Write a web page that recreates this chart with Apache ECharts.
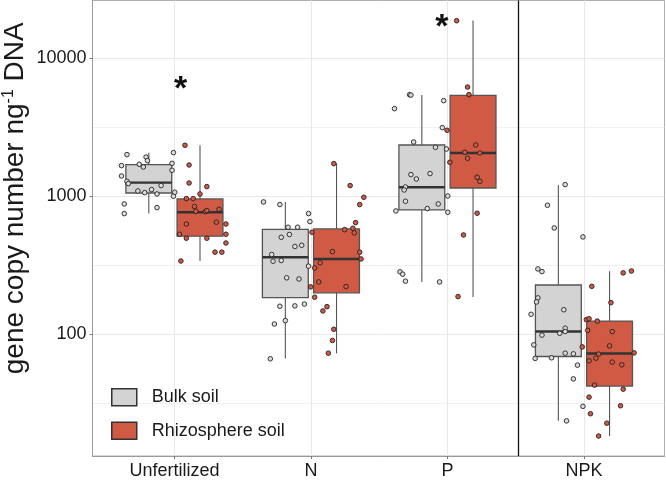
<!DOCTYPE html>
<html><head><meta charset="utf-8">
<script src="https://cdn.jsdelivr.net/npm/echarts@6/dist/echarts.min.js"></script>
<style>html,body{margin:0;padding:0;background:#fff}#c{width:666px;height:480px}</style>
</head><body><div id="c"></div>
<script>
// ---------------- data ----------------
const categories = ['Unfertilized', 'N', 'P', 'NPK'];
const seriesNames = ['Bulk soil', 'Rhizosphere soil'];
const yTicks = [100, 1000, 10000];
const yMinorTicks = [31.62, 316.2, 3162];

// box statistics per category: [lower whisker, Q1, median, Q3, upper whisker]
const bulkStats = [
  [750, 1056, 1256, 1694, 2069],
  [67, 185, 362, 577, 910],
  [240, 796, 1162, 2349, 5401],
  [23.7, 69.3, 105, 228, 1207]
];
const rhizoStats = [
  [340, 514, 766, 956, 2339],
  [73, 200, 352, 580, 1733],
  [187, 1148, 2057, 5374, 18730],
  [18.4, 42.3, 72.9, 125, 287]
];

// individual samples
const bulkValues = [
  [2002, 1667, 1923, 1811, 2070, 1704, 1629, 1732, 1542, 1402, 1283, 1236, 1195, 1092, 1063, 1118, 1039, 1069, 1000, 880, 749, 828],
  [910, 871, 750, 656, 597, 597, 505, 529, 433, 442, 379, 339, 343, 312, 257, 252, 160, 161, 166, 119, 126, 66.7],
  [4306, 5435, 5401, 4920, 3138, 2470, 2262, 2198, 1435, 1334, 1459, 1167, 1111, 920, 1005, 880, 815, 783, 766, 284, 273, 243, 240],
  [1215, 861, 590, 508, 298, 285, 184, 172, 140, 151, 111, 105, 102, 98.9, 84.1, 67.1, 67.8, 73.2, 72.4, 60.0, 47.7, 30.2, 23.7]
];
const rhizoValues = [
  [2338, 1684, 1248, 1175, 1039, 962, 962, 843, 779, 775, 788, 805, 630, 649, 630, 531, 497, 497, 531, 459, 394, 394, 340],
  [1723, 1195, 983, 871, 645, 587, 574, 543, 549, 398, 394, 352, 330, 303, 221, 240, 222, 186, 159, 148, 109, 90.5, 73.2],
  [18640, 6170, 5435, 3001, 2349, 2080, 2057, 1882, 1762, 1372, 1283, 754, 525, 188],
  [223, 279, 288, 170, 128, 130, 125, 107, 105, 81.3, 82.7, 72.1, 67.4, 64.4, 63.1, 60.3, 73.6, 43.0, 40.2, 35.2, 30.5, 26.7, 22.8, 18.4]
];
// horizontal jitter of each sample (category units, relative to its box centre)
const bulkJitter = [
  [-0.16, -0.20, -0.02, -0.01, 0.18, -0.07, -0.04, 0.17, 0.17, -0.20, -0.16, -0.15, 0.09, -0.08, -0.03, 0.02, 0.06, 0.19, 0.18, -0.18, -0.18, 0.06],
  [-0.16, -0.04, 0.17, 0.18, 0.02, 0.09, -0.03, 0.03, 0.07, 0.12, -0.10, -0.09, -0.03, 0.17, 0.01, 0.10, -0.04, 0.07, 0.14, -0.08, 0.00, -0.11],
  [-0.20, -0.09, -0.08, 0.16, 0.15, -0.06, 0.10, 0.18, -0.08, -0.04, 0.06, -0.12, -0.13, -0.12, 0.19, 0.12, 0.04, -0.19, 0.19, -0.16, -0.14, -0.12, 0.13],
  [0.05, -0.08, -0.03, 0.18, -0.15, -0.12, -0.15, -0.16, -0.20, 0.04, 0.05, 0.05, 0.01, -0.12, -0.18, -0.17, -0.05, 0.05, 0.11, 0.14, 0.11, 0.18, 0.06]
];
const rhizoJitter = [
  [-0.11, -0.08, -0.08, 0.05, 0.00, -0.10, -0.05, -0.04, -0.03, 0.04, 0.05, 0.14, -0.10, 0.12, 0.19, -0.15, -0.10, 0.05, 0.19, 0.19, 0.11, 0.16, -0.14],
  [-0.02, 0.10, 0.20, 0.17, 0.14, 0.12, 0.06, 0.13, -0.18, -0.03, 0.17, 0.18, -0.12, -0.16, -0.19, -0.13, 0.07, -0.16, -0.07, -0.10, -0.02, -0.03, -0.06],
  [-0.12, -0.04, -0.03, -0.19, 0.02, -0.06, 0.05, -0.04, -0.17, 0.03, 0.05, 0.03, -0.07, -0.11],
  [-0.13, 0.10, 0.16, 0.01, -0.17, -0.15, -0.09, -0.16, 0.02, -0.20, 0.00, -0.08, -0.10, -0.15, 0.02, 0.09, 0.18, -0.11, 0.10, -0.15, 0.08, -0.14, -0.02, -0.08]
];
// significance marks
const signifCategories = ['Unfertilized', 'P'];
const signifLabels = ['*', '*'];
const signifY = [6560, 18400];

// ---------------- layout / style ----------------
const DODGE = 0.1875, BOX_HALF = 0.168;
const SIG_DX = [0.045, -0.04];
const SIG_NUDGE = 6;
const DIVIDER_X = 3.515;
const FILL = ['#d3d3d3', '#d05a44'];
const EDGE = '#555';
const FONT = 'Liberation Sans, Arial, sans-serif';

function boxData(stats, side) {
  return stats.map((s, i) => [i + 1 + side * DODGE].concat(s));
}
function pointData(vals, jit, side) {
  const out = [];
  vals.forEach((arr, i) => arr.forEach((v, j) => out.push([i + 1 + side * DODGE + jit[i][j], v])));
  return out;
}
function renderBox(fill) {
  return function (params, api) {
    const x = api.value(0);
    const p = k => api.coord([x, api.value(k)]);
    const cx = p(1)[0];
    const yLo = p(1)[1], yQ1 = p(2)[1], yMed = p(3)[1], yQ3 = p(4)[1], yHi = p(5)[1];
    const L = api.coord([x - BOX_HALF, api.value(3)])[0];
    const R = api.coord([x + BOX_HALF, api.value(3)])[0];
    return {
      type: 'group', children: [
        { type: 'line', shape: { x1: cx, y1: yHi, x2: cx, y2: yQ3 }, style: { stroke: EDGE, lineWidth: 1.1 } },
        { type: 'line', shape: { x1: cx, y1: yQ1, x2: cx, y2: yLo }, style: { stroke: EDGE, lineWidth: 1.1 } },
        { type: 'rect', shape: { x: L, y: yQ3, width: R - L, height: yQ1 - yQ3 }, style: { fill: fill, stroke: EDGE, lineWidth: 1.3 } },
        { type: 'line', shape: { x1: L, y1: yMed, x2: R, y2: yMed }, style: { stroke: '#333', lineWidth: 2.4 } }
      ]
    };
  };
}
function renderSignif(params, api) {
  const pt = api.coord([api.value(0), api.value(1)]);
  return {
    type: 'text', x: pt[0], y: pt[1] + SIG_NUDGE,
    style: { text: signifLabels[params.dataIndex], fontSize: 34, fontWeight: 'bold', fontFamily: FONT, fill: '#111', align: 'center', verticalAlign: 'middle' }
  };
}

const chart = echarts.init(document.getElementById('c'), null, { renderer: 'canvas' });

const series = [];
[bulkStats, rhizoStats].forEach((stats, k) => {
  series.push({
    name: seriesNames[k], type: 'custom', renderItem: renderBox(FILL[k]),
    data: boxData(stats, k === 0 ? -1 : 1),
    encode: { x: 0, y: [1, 2, 3, 4, 5] },
    itemStyle: { color: FILL[k] }, z: 2, silent: true
  });
});
[[bulkValues, bulkJitter], [rhizoValues, rhizoJitter]].forEach((pair, k) => {
  series.push({
    name: seriesNames[k], type: 'scatter', symbol: 'circle', symbolSize: 4.6,
    data: pointData(pair[0], pair[1], k === 0 ? -1 : 1),
    itemStyle: { color: k === 0 ? '#dcdcdc' : '#d05a44', borderColor: '#222', borderWidth: 0.9, opacity: 1 },
    z: 5, silent: true
  });
});
series.push({
  name: 'signif', type: 'custom', renderItem: renderSignif,
  data: signifCategories.map((c, i) => [categories.indexOf(c) + 1 + SIG_DX[i], signifY[i]]),
  encode: { x: 0, y: 1 },
  z: 6, silent: true,
  markLine: {
    silent: true, symbol: 'none', label: { show: false },
    lineStyle: { color: '#111', width: 1.3, type: 'solid' },
    data: [{ xAxis: DIVIDER_X }]
  }
});

chart.setOption({
  animation: false,
  backgroundColor: '#fff',
  grid: { left: 92.5, right: 1.5, top: 0.5, bottom: 24, show: true, borderColor: '#b0b0b0', borderWidth: 1, outerBoundsMode: 'none', containLabel: false },
  legend: {
    orient: 'vertical', left: 106, top: 383, itemWidth: 25, itemHeight: 17, itemGap: 15, icon: 'rect', selectedMode: false,
    data: [
      { name: seriesNames[0], itemStyle: { color: FILL[0], borderColor: '#333', borderWidth: 1.5 } },
      { name: seriesNames[1], itemStyle: { color: FILL[1], borderColor: '#333', borderWidth: 1.5 } }
    ],
    textStyle: { fontSize: 18, color: '#1a1a1a', fontFamily: FONT, padding: [0, 0, 0, 10] }
  },
  xAxis: {
    type: 'value', min: 0.4, max: 4.59,
    axisLine: { show: true, onZero: false, lineStyle: { color: '#999', width: 1 } },
    axisTick: { show: true, length: 3, customValues: [1, 2, 3, 4], lineStyle: { color: '#777' } },
    axisLabel: { customValues: [1, 2, 3, 4], formatter: v => categories[Math.round(v) - 1], fontSize: 18, color: '#1a1a1a', fontFamily: FONT, margin: 6 },
    splitLine: { show: true, lineStyle: { color: '#e8e8e8', width: 1 } }
  },
  yAxis: [
    {
      type: 'log', logBase: 10, min: 13.2, max: 26100,
      name: 'gene copy number ng{sup|-1} DNA', nameLocation: 'middle', nameRotate: 90, nameGap: 62, nameMoveOverlap: false,
      nameTextStyle: { fontSize: 28, color: '#1a1a1a', fontFamily: FONT, padding: [0, 0, 0, 60],
        rich: { sup: { fontSize: 16, verticalAlign: 'top', padding: [0, 0, 14, 0], fontFamily: FONT, color: '#1a1a1a' } } },
      axisLine: { show: true, lineStyle: { color: '#999', width: 1 } },
      axisTick: { show: true, length: 3, customValues: yTicks, lineStyle: { color: '#777' } },
      axisLabel: { customValues: yTicks, formatter: v => String(Math.round(v)), fontSize: 18, color: '#1a1a1a', fontFamily: FONT, margin: 6 },
      splitLine: { show: true, lineStyle: { color: '#e8e8e8', width: 1 } },
      minorSplitLine: { show: false }
    },
    {
      type: 'log', logBase: 10, min: 13.2, max: 26100, position: 'left',
      axisLine: { show: false }, axisLabel: { show: false },
      axisTick: { show: false, customValues: yMinorTicks },
      splitLine: { show: true, lineStyle: { color: '#f0f0f0', width: 1 } }
    }
  ],
  series: series
});
</script></body></html>
